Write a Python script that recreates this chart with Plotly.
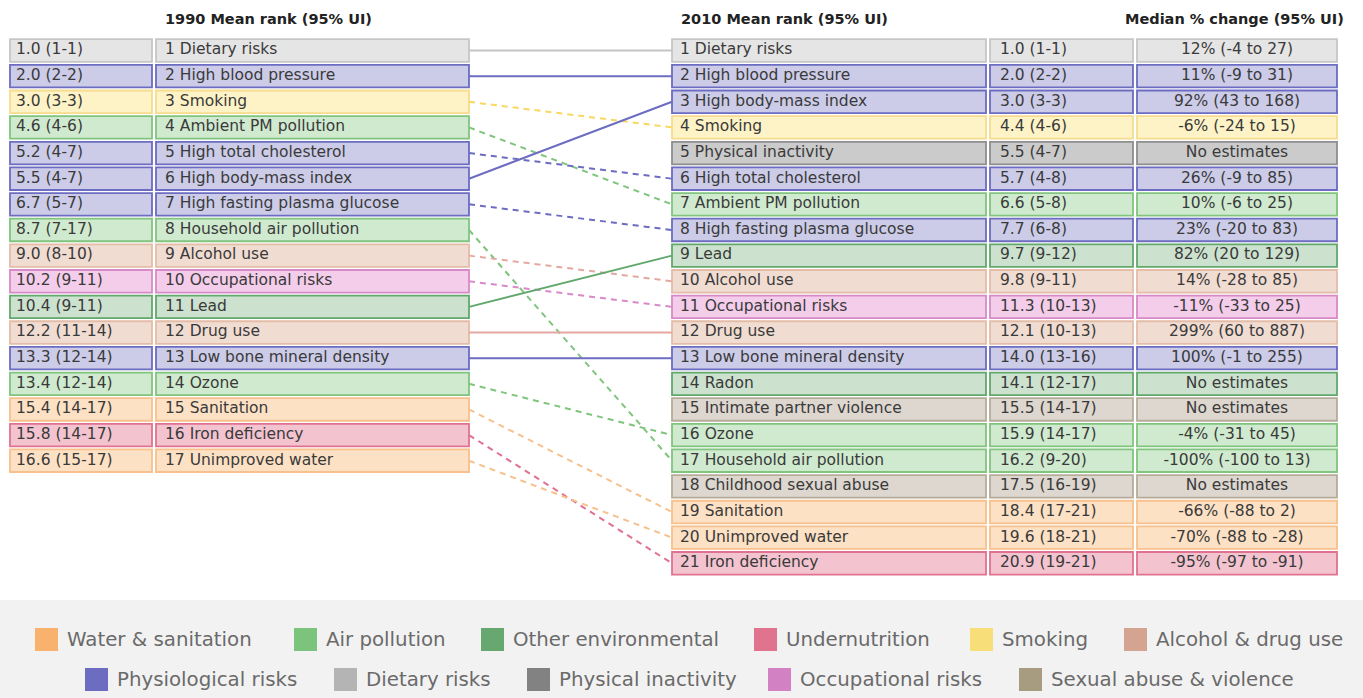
import plotly.graph_objects as go

# ---------------- data ----------------
risks_1990 = ["Dietary risks", "High blood pressure", "Smoking", "Ambient PM pollution",
              "High total cholesterol", "High body-mass index", "High fasting plasma glucose",
              "Household air pollution", "Alcohol use", "Occupational risks", "Lead", "Drug use",
              "Low bone mineral density", "Ozone", "Sanitation", "Iron deficiency", "Unimproved water"]
mean_rank_1990 = ["1.0 (1-1)", "2.0 (2-2)", "3.0 (3-3)", "4.6 (4-6)", "5.2 (4-7)", "5.5 (4-7)",
                  "6.7 (5-7)", "8.7 (7-17)", "9.0 (8-10)", "10.2 (9-11)", "10.4 (9-11)",
                  "12.2 (11-14)", "13.3 (12-14)", "13.4 (12-14)", "15.4 (14-17)",
                  "15.8 (14-17)", "16.6 (15-17)"]

risks_2010 = ["Dietary risks", "High blood pressure", "High body-mass index", "Smoking",
              "Physical inactivity", "High total cholesterol", "Ambient PM pollution",
              "High fasting plasma glucose", "Lead", "Alcohol use", "Occupational risks",
              "Drug use", "Low bone mineral density", "Radon", "Intimate partner violence",
              "Ozone", "Household air pollution", "Childhood sexual abuse", "Sanitation",
              "Unimproved water", "Iron deficiency"]
mean_rank_2010 = ["1.0 (1-1)", "2.0 (2-2)", "3.0 (3-3)", "4.4 (4-6)", "5.5 (4-7)", "5.7 (4-8)",
                  "6.6 (5-8)", "7.7 (6-8)", "9.7 (9-12)", "9.8 (9-11)", "11.3 (10-13)",
                  "12.1 (10-13)", "14.0 (13-16)", "14.1 (12-17)", "15.5 (14-17)",
                  "15.9 (14-17)", "16.2 (9-20)", "17.5 (16-19)", "18.4 (17-21)",
                  "19.6 (18-21)", "20.9 (19-21)"]
median_change = ["12% (-4 to 27)", "11% (-9 to 31)", "92% (43 to 168)", "-6% (-24 to 15)",
                 "No estimates", "26% (-9 to 85)", "10% (-6 to 25)", "23% (-20 to 83)",
                 "82% (20 to 129)", "14% (-28 to 85)", "-11% (-33 to 25)", "299% (60 to 887)",
                 "100% (-1 to 255)", "No estimates", "No estimates", "-4% (-31 to 45)",
                 "-100% (-100 to 13)", "No estimates", "-66% (-88 to 2)", "-70% (-88 to -28)",
                 "-95% (-97 to -91)"]

risk_category = {
    "Dietary risks": "Dietary risks",
    "High blood pressure": "Physiological risks",
    "High body-mass index": "Physiological risks",
    "High total cholesterol": "Physiological risks",
    "High fasting plasma glucose": "Physiological risks",
    "Low bone mineral density": "Physiological risks",
    "Smoking": "Smoking",
    "Ambient PM pollution": "Air pollution",
    "Household air pollution": "Air pollution",
    "Ozone": "Air pollution",
    "Alcohol use": "Alcohol & drug use",
    "Drug use": "Alcohol & drug use",
    "Occupational risks": "Occupational risks",
    "Lead": "Other environmental",
    "Radon": "Other environmental",
    "Sanitation": "Water & sanitation",
    "Unimproved water": "Water & sanitation",
    "Iron deficiency": "Undernutrition",
    "Physical inactivity": "Physical inactivity",
    "Intimate partner violence": "Sexual abuse & violence",
    "Childhood sexual abuse": "Sexual abuse & violence",
}

legend_row1 = ["Water & sanitation", "Air pollution", "Other environmental", "Undernutrition",
               "Smoking", "Alcohol & drug use"]
legend_row2 = ["Physiological risks", "Dietary risks", "Physical inactivity",
               "Occupational risks", "Sexual abuse & violence"]

# ---------------- styles ----------------
# category: (swatch colour, box fill, box border)
STYLE = {
    "Water & sanitation":      ("#f9b26e", "#fde1c4", "#f7c08c"),
    "Air pollution":           ("#7cc47c", "#d0eacf", "#80c47e"),
    "Other environmental":     ("#66a870", "#cce2cf", "#62a86c"),
    "Undernutrition":          ("#e0748e", "#f3c4d0", "#e07290"),
    "Smoking":                 ("#f8de78", "#fdf3c6", "#f6dc8c"),
    "Alcohol & drug use":      ("#d4a490", "#f1dcd2", "#e4bca8"),
    "Physiological risks":     ("#6c6cc0", "#cccce9", "#6c6cc2"),
    "Dietary risks":           ("#b4b4b4", "#e5e5e5", "#c6c6c6"),
    "Physical inactivity":     ("#828282", "#cbcbcb", "#8e8e8e"),
    "Occupational risks":      ("#d282c2", "#f4cdea", "#d88ac8"),
    "Sexual abuse & violence": ("#a89c80", "#ddd7d0", "#b6ac9a"),
}
LINE_COLOR = {k: v[2] for k, v in STYLE.items()}
LINE_COLOR["Dietary risks"] = "#c4c4c4"
LINE_COLOR["Smoking"] = "#f8d860"
LINE_COLOR["Alcohol & drug use"] = "#e4a8a0"

FONT = "DejaVu Sans, Verdana, sans-serif"
TXT = "#3a3a3a"
W, H = 1363, 698
ROW0_PX, ROW_PITCH = 50.5, 25.64       # pixel centre of rank 1, pixel pitch of rows
BOX_H = 0.88                             # box height in rank units

# column extents (x in pixels)
COL_L_VAL = (10, 152)
COL_L_NAME = (156, 469)
COL_R_NAME = (672, 986)
COL_R_VAL = (990, 1133)
COL_R_CHG = (1137, 1337)

def y_of_px(p):
    return 1 + (p - ROW0_PX) / ROW_PITCH

ranks_1990 = list(range(1, len(risks_1990) + 1))
ranks_2010 = list(range(1, len(risks_2010) + 1))
cats_1990 = [risk_category[r] for r in risks_1990]
cats_2010 = [risk_category[r] for r in risks_2010]

fig = go.Figure()

# connecting lines
for r, name in zip(ranks_1990, risks_1990):
    r2 = risks_2010.index(name) + 1
    fig.add_trace(go.Scatter(
        x=[COL_L_NAME[1], COL_R_NAME[0]], y=[r, r2], mode="lines",
        line=dict(color=LINE_COLOR[risk_category[name]], width=2,
                  dash="solid" if r2 <= r else "6px,5px"),
        hoverinfo="skip", showlegend=False))

def box_column(col, ranks, cats):
    fig.add_trace(go.Bar(
        orientation="h", y=ranks, x=[col[1] - col[0]] * len(ranks), base=[col[0]] * len(ranks),
        width=BOX_H,
        marker=dict(color=[STYLE[c][1] for c in cats],
                    line=dict(color=[STYLE[c][2] for c in cats], width=1.8)),
        hoverinfo="skip", showlegend=False))

def text_column(x, ranks, texts, pos="middle right"):
    fig.add_trace(go.Scatter(
        x=[x] * len(ranks), y=ranks, mode="text", text=texts, textposition=pos,
        textfont=dict(family=FONT, size=15.5, color=TXT),
        hoverinfo="skip", showlegend=False))

box_column(COL_L_VAL, ranks_1990, cats_1990)
box_column(COL_L_NAME, ranks_1990, cats_1990)
box_column(COL_R_NAME, ranks_2010, cats_2010)
box_column(COL_R_VAL, ranks_2010, cats_2010)
box_column(COL_R_CHG, ranks_2010, cats_2010)

text_column(COL_L_VAL[0] + 6, ranks_1990, mean_rank_1990)
text_column(COL_L_NAME[0] + 9, ranks_1990, [f"{r} {n}" for r, n in zip(ranks_1990, risks_1990)])
text_column(COL_R_NAME[0] + 8, ranks_2010, [f"{r} {n}" for r, n in zip(ranks_2010, risks_2010)])
text_column(COL_R_VAL[0] + 10, ranks_2010, mean_rank_2010)
text_column((COL_R_CHG[0] + COL_R_CHG[1]) / 2, ranks_2010, median_change, pos="middle center")

annotations = []
hdr_y = y_of_px(19)
for x, anchor, label in [(268, "center", "1990 Mean rank (95% UI)"),
                         (679, "left", "2010 Mean rank (95% UI)"),
                         (1346, "right", "Median % change (95% UI)")]:
    annotations.append(dict(x=x, y=hdr_y, xref="x", yref="y", text=f"<b>{label}</b>",
                            showarrow=False, xanchor=anchor, yanchor="middle",
                            font=dict(family=FONT, size=14.5, color="#222222")))

# legend panel
shapes = [dict(type="rect", xref="paper", yref="paper", x0=0, x1=1, y0=0,
               y1=(H - 600) / H, fillcolor="#f2f2f2", line=dict(width=0), layer="below")]
legend_x = {
    "Water & sanitation": 35, "Air pollution": 294, "Other environmental": 481,
    "Undernutrition": 754, "Smoking": 970, "Alcohol & drug use": 1124,
    "Physiological risks": 85, "Dietary risks": 334, "Physical inactivity": 527,
    "Occupational risks": 768, "Sexual abuse & violence": 1019,
}
SW = 23
for row, ypx in [(legend_row1, 639.5), (legend_row2, 679.5)]:
    for cat in row:
        x0 = legend_x[cat]
        shapes.append(dict(type="rect", xref="x", yref="paper", x0=x0, x1=x0 + SW,
                           y0=(H - ypx - SW / 2) / H, y1=(H - ypx + SW / 2) / H,
                           fillcolor=STYLE[cat][0], line=dict(width=0)))
        annotations.append(dict(x=x0 + SW + 7, y=(H - ypx) / H, xref="x", yref="paper",
                                text=cat, showarrow=False, xanchor="left", yanchor="middle",
                                font=dict(family=FONT, size=19.8, color="#6a6a6a")))

fig.update_layout(
    width=W, height=H, margin=dict(l=0, r=0, t=0, b=0),
    paper_bgcolor="white", plot_bgcolor="rgba(0,0,0,0)",
    barmode="overlay", showlegend=False,
    xaxis=dict(range=[0, W], visible=False, fixedrange=True),
    yaxis=dict(range=[y_of_px(H), y_of_px(0)], visible=False, fixedrange=True),
    shapes=shapes, annotations=annotations,
)

fig.write_html("out.html", config={"displayModeBar": False},
               post_script="document.body.style.margin='0';document.body.style.overflow='hidden';")
